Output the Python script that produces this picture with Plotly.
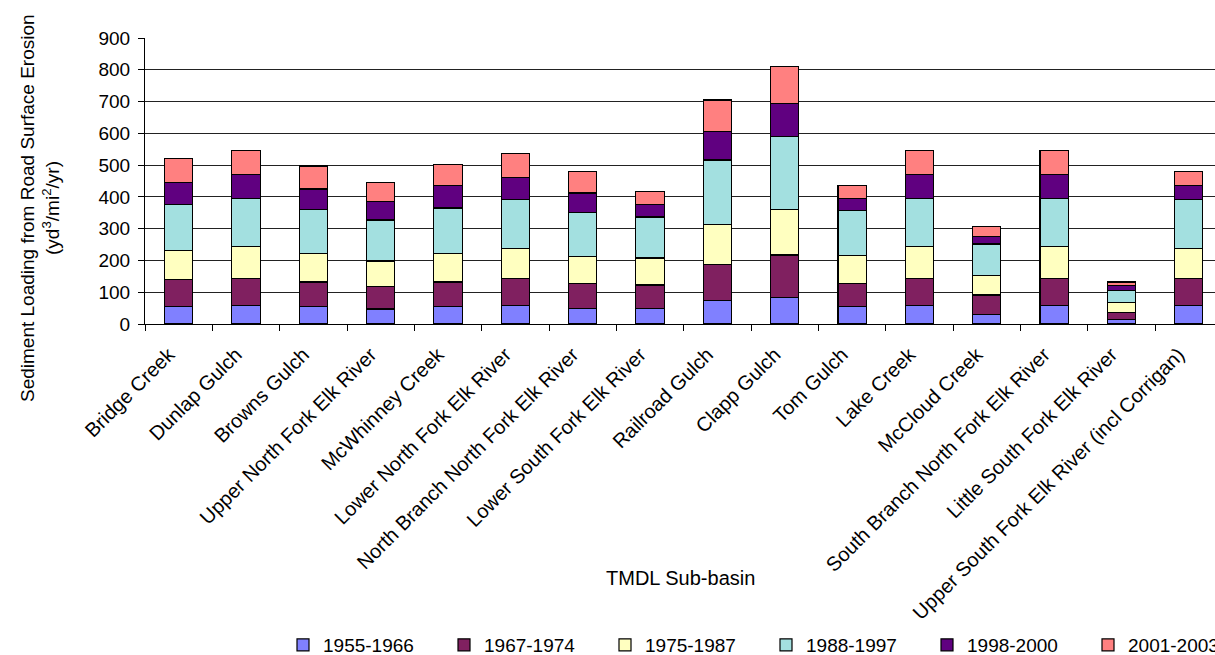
import plotly.graph_objects as go

categories = ["Bridge Creek", "Dunlap Gulch", "Browns Gulch", "Upper North Fork Elk River",
              "McWhinney Creek", "Lower North Fork Elk River", "North Branch North Fork Elk River",
              "Lower South Fork Elk River", "Railroad Gulch", "Clapp Gulch", "Tom Gulch",
              "Lake Creek", "McCloud Creek", "South Branch North Fork Elk River",
              "Little South Fork Elk River", "Upper South Fork Elk River (incl Corrigan)"]

s1955_1966 = [55, 58, 54, 47, 54, 58, 48, 48, 74, 83, 55, 58, 31, 58, 13, 58]
s1967_1974 = [84, 85, 78, 71, 78, 85, 80, 75, 114, 134, 73, 85, 60, 85, 24, 85]
s1975_1987 = [93, 100, 90, 80, 90, 94, 84, 85, 124, 144, 88, 100, 61, 100, 30, 94]
s1988_1997 = [145, 153, 139, 129, 143, 155, 140, 129, 204, 229, 140, 153, 100, 153, 39, 154]
s1998_2000 = [69, 74, 64, 58, 71, 69, 60, 40, 90, 105, 40, 74, 24, 74, 16, 46]
s2001_2003 = [76, 76, 72, 61, 65, 75, 69, 39, 99, 115, 41, 76, 31, 76, 10, 44]

series_names = ["1955-1966", "1967-1974", "1975-1987", "1988-1997", "1998-2000", "2001-2003"]
series_values = [s1955_1966, s1967_1974, s1975_1987, s1988_1997, s1998_2000, s2001_2003]
colors = ["#8080FF", "#802060", "#FFFFC0", "#A3E0E0", "#600080", "#FF8080"]

FONT = "Liberation Sans, Arial, sans-serif"
FS = 19

W, H = 1215, 655
L, R, T, B = 145, 0, 38, 331
PW = W - L - R
PH = H - T - B

fig = go.Figure()
for i, (name, vals, col) in enumerate(zip(series_names, series_values, colors)):
    fig.add_trace(go.Bar(x=categories, y=vals, name=name,
                         legend="legend2" if i == 5 else "legend",
                         marker=dict(color=col, line=dict(color="black", width=1.2))))

LEG_X = 283
LEG_STEP = 161
LEG_Y = 645
fig.update_layout(
    barmode="stack",
    bargap=0.58,
    width=W, height=H,
    margin=dict(l=L, r=R, t=T, b=B, autoexpand=False),
    plot_bgcolor="white", paper_bgcolor="white",
    font=dict(family=FONT, size=FS, color="black"),
    showlegend=True,
    legend=dict(orientation="h", xref="paper", yref="paper",
                x=(LEG_X - L) / PW, xanchor="left", y=(T + PH - LEG_Y) / PH, yanchor="middle",
                font=dict(size=FS), entrywidth=LEG_STEP - 45, entrywidthmode="pixels",
                traceorder="normal", bgcolor="rgba(0,0,0,0)"),
    legend2=dict(orientation="h", xref="paper", yref="paper",
                 x=(LEG_X + 5 * LEG_STEP - L) / PW, xanchor="left",
                 y=(T + PH - LEG_Y) / PH, yanchor="middle",
                 font=dict(size=FS), bgcolor="rgba(0,0,0,0)"),
    xaxis=dict(tickangle=-45, showline=True, linecolor="black", linewidth=1,
               ticks="outside", tickson="boundaries", ticklen=6, tickcolor="black",
               tickfont=dict(size=20), automargin=False, showgrid=False,
               range=[-0.5, 15.39], ticklabelshift=-10, ticklabelstandoff=10),
    yaxis=dict(range=[0, 900], dtick=100, showline=True, linecolor="black", linewidth=1,
               ticks="outside", ticklen=6, tickcolor="black", showgrid=True,
               gridcolor="#222222", gridwidth=1, tickfont=dict(size=FS), automargin=False,
               zeroline=False, ticklabelstandoff=4),
    annotations=[
        dict(text="TMDL Sub-basin", x=(680 - L) / PW, y=(T + PH - 578) / PH,
             xref="paper", yref="paper", showarrow=False, xanchor="center", yanchor="middle",
             font=dict(size=20)),
        dict(text="Sediment Loading from Road Surface Erosion",
             x=(27 - L) / PW, y=(T + PH - 208) / PH, xref="paper", yref="paper",
             showarrow=False, textangle=-90, xanchor="center", yanchor="middle",
             font=dict(size=FS)),
        dict(text="(yd<sup>3</sup>/mi<sup>2</sup>/yr)",
             x=(51 - L) / PW, y=(T + PH - 208) / PH, xref="paper", yref="paper",
             showarrow=False, textangle=-90, xanchor="center", yanchor="middle",
             font=dict(size=FS)),
    ],
)

fig.write_html("out.html", config={"displayModeBar": False},
               post_script="document.body.style.margin='0';document.body.style.overflow='hidden';")
